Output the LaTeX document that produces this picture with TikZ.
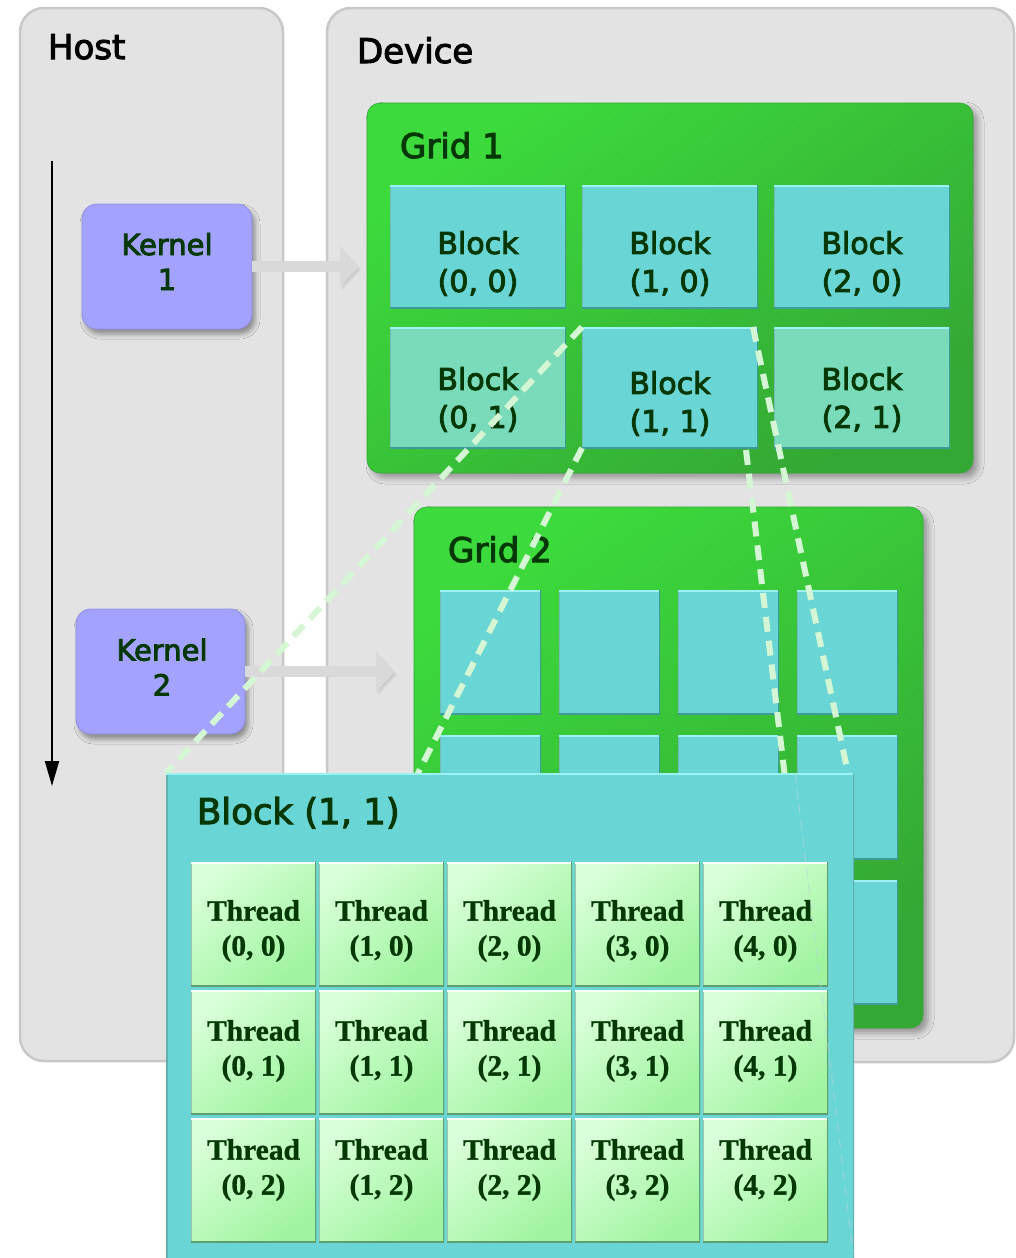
\documentclass[tikz,border=0pt]{standalone}
\usepackage{fontspec}
\setmainfont{DejaVu Sans}[FakeBold=3]
\newfontfamily\threadfont{Liberation Serif}[FakeBold=1]
\usetikzlibrary{arrows.meta,shadows.blur,calc}

\definecolor{panelfill}{HTML}{E3E3E3}
\definecolor{paneledge}{HTML}{C8C8C8}
\definecolor{kernelfill}{HTML}{A3A3FF}
\definecolor{kerneledge}{HTML}{8E8EE6}
\definecolor{gridlight}{HTML}{3CDA3C}
\definecolor{griddark}{HTML}{34A834}
\definecolor{cyanfill}{HTML}{6AD5D5}
\definecolor{cyanedge}{HTML}{3F9A9A}
\definecolor{cyanhi}{HTML}{9CF2F2}
\definecolor{palefill}{HTML}{7ADBBA}
\definecolor{threadlight}{HTML}{D8FFD8}
\definecolor{threaddark}{HTML}{A0F4A0}
\definecolor{threadedge}{HTML}{5F9C6E}
\definecolor{dashgreen}{HTML}{D4F6D4}
\definecolor{labelgreen}{HTML}{053805}
\definecolor{launchgray}{HTML}{D9D9D9}

\begin{document}
\begin{tikzpicture}[x=1pt,y=-1pt,
  every node/.style={inner sep=0pt, outer sep=0pt},
  panel/.style={anchor=north west, draw=paneledge, line width=2.5pt, fill=panelfill, rounded corners=24pt},
  kernelbox/.style={anchor=north west, fill=kernelfill, draw=kerneledge, line width=0.8pt,
    rounded corners=15pt, minimum width=170pt, minimum height=125pt,
    blur shadow={shadow xshift=3pt, shadow yshift=-5pt, shadow blur radius=5pt, shadow opacity=40}},
  gridbox/.style={anchor=north west, top color=gridlight, bottom color=griddark, shading angle=35,
    draw=griddark, line width=0.6pt, rounded corners=13pt,
    blur shadow={shadow xshift=5pt, shadow yshift=-5pt, shadow blur radius=6pt, shadow opacity=35}},
  cell/.style={anchor=north west, fill=cyanfill,
    path picture={
      \draw[line width=2pt, cyanedge!70] (path picture bounding box.south west) -- (path picture bounding box.north west);
      \draw[line width=3pt, cyanhi] (path picture bounding box.north west) -- (path picture bounding box.north east);
      \draw[line width=3pt, cyanedge] (path picture bounding box.north east) -- (path picture bounding box.south east) -- (path picture bounding box.south west);
    }},
  threadcell/.style={anchor=north west, minimum width=125pt, minimum height=124pt,
    top color=threadlight, bottom color=threaddark, shading angle=40,
    path picture={
      \draw[line width=2pt, threadedge!60] (path picture bounding box.south west) -- (path picture bounding box.north west);
      \draw[line width=3pt, white!85!threadlight] (path picture bounding box.north west) -- (path picture bounding box.north east);
      \draw[line width=3pt, threadedge] (path picture bounding box.north east) -- (path picture bounding box.south east) -- (path picture bounding box.south west);
    }},
  bigblock/.style={anchor=north west, fill=cyanfill,
    path picture={
      \draw[line width=3pt, cyanedge!80] (path picture bounding box.south west) -- (path picture bounding box.north west);
      \draw[line width=3pt, cyanhi] (path picture bounding box.north west) -- (path picture bounding box.north east);
      \draw[line width=3pt, cyanedge!80] (path picture bounding box.north east) -- (path picture bounding box.south east);
    }},
  titletext/.style={font=\fontsize{34}{40}\selectfont, anchor=base west},
  blocktext/.style={font=\fontsize{30}{38}\selectfont, align=center, text=labelgreen},
  kerneltext/.style={font=\fontsize{29}{35}\selectfont, align=center, text=labelgreen},
  threadtext/.style={font=\threadfont\bfseries\fontsize{29.5}{35}\selectfont, align=center, text=labelgreen},
  launch/.style={draw=launchgray, line width=11pt, -{Triangle[length=19pt,width=40pt]},
    preaction={draw=black!45, opacity=0.18, transform canvas={shift={(2pt,-3pt)}}}},
  zoomline/.style={draw=dashgreen, line width=6pt, dash pattern=on 15pt off 9pt},
  hiddenline/.style={draw=cyanedge!40!white, opacity=0.6, line width=1pt, dash pattern=on 10pt off 6pt},
]

% canvas
\fill[white] (0,0) rectangle (1016,1258);
\useasboundingbox (0,0) rectangle (1016,1258);

% host and device panels
\node[panel, minimum width=263pt, minimum height=1053pt] (host) at (20,8) {};
\node[panel, minimum width=687pt, minimum height=1054pt] (device) at (327,8) {};
\node[titletext] (hostlabel) at (48,59) {Host};
\node[titletext] (devicelabel) at (357,63) {Device};

% host timeline
\coordinate (tstart) at (52,161);
\coordinate (tend) at (52,786);
\draw[line width=2pt, -{Triangle[length=25pt,width=14pt]}] (tstart) -- (tend);

% kernels
\node[kernelbox] (k1) at (82,204) {};
\node[kerneltext] (k1label) at ([yshift=5pt]k1.center) {Kernel\\1};
\node[kernelbox, minimum width=169pt] (k2) at (76,609) {};
\node[kerneltext] (k2label) at ([shift={(1.5pt,4.5pt)}]k2.center) {Kernel\\2};

% grid 1
\node[gridbox, minimum width=606pt, minimum height=370pt] (g1) at (367,103) {};
\node[titletext, text=labelgreen] (g1label) at (400,158) {Grid 1};
\foreach \i/\x in {0/390,1/582,2/774} {
  \node[cell, minimum width=176pt, minimum height=123pt] (b\i0) at (\x,185) {};
  \node[blocktext] (b\i0-l) at ([yshift=-17pt]b\i0.center) {Block\\(\i, 0)};
}
\node[cell, fill=palefill, minimum width=176pt, minimum height=121pt] (b01) at (390,327) {};
\node[blocktext] (b01-l) at ([yshift=-12pt]b01.center) {Block\\(0, 1)};
\node[cell, minimum width=176pt, minimum height=121pt] (b11) at (582,327) {};
\node[blocktext] (b11-l) at ([yshift=-16pt]b11.center) {Block\\(1, 1)};
\node[cell, fill=palefill, minimum width=176pt, minimum height=121pt] (b21) at (774,327) {};
\node[blocktext] (b21-l) at ([yshift=-12pt]b21.center) {Block\\(2, 1)};

% grid 2
\node[gridbox, minimum width=509pt, minimum height=521pt] (g2) at (414,507) {};
\node[titletext, text=labelgreen] (g2label) at (448,562) {Grid 2};
\foreach \i in {0,...,3} {
  \foreach \j in {0,1,2} {
    \node[cell, minimum width=101pt, minimum height=124pt] (c\i\j) at ({440+119*\i},{590+145*\j}) {};
  }
}

% kernel launches
\draw[launch] (k1.east) -- ([xshift=-8pt]k1.east -| g1.west);
\draw[launch] (k2.east) -- ([xshift=-19pt]k2.east -| g2.west);

% enlarged block (1, 1): outline used as the far end of the zoom lines
\coordinate (bbnw) at (166,773);
\coordinate (bbne) at (848,773);
\coordinate (bbsw) at (166,1273);
\coordinate (bbse) at (844,1273);
\coordinate (zc) at ([xshift=-5pt]b11.north east);
\coordinate (zd) at ([shift={(-12pt,-2pt)}]b11.south east);
\draw[zoomline] (b11.north west) -- (bbnw);
\draw[zoomline] (b11.south west) -- (bbsw);
\draw[zoomline] (zc) -- (bbne);
\draw[zoomline] (zd) -- (bbse);

% the enlarged block, drawn over the zoom lines
\node[bigblock, minimum width=688pt, minimum height=500pt] (bb) at (bbnw) {};
\node[titletext, text=labelgreen, font=\fontsize{35.5}{40}\selectfont] (bblabel) at (197,824) {Block (1, 1)};

% threads
\foreach \j/\dy in {0/-7,1/1,2/10} {
  \foreach \i in {0,...,4} {
    \node[threadcell] (t\i\j) at ({191+128*\i},{862+128*\j}) {};
    \node[threadtext] (t\i\j-l) at ([yshift=\dy pt]t\i\j.center) {Thread\\(\i, \j)};
  }
}

% hidden edge seen through the enlarged block
\coordinate (ha) at (795,773);
\coordinate (hb) at (853,1252);
\draw[hiddenline] (ha) -- (hb);
\end{tikzpicture}
\end{document}
